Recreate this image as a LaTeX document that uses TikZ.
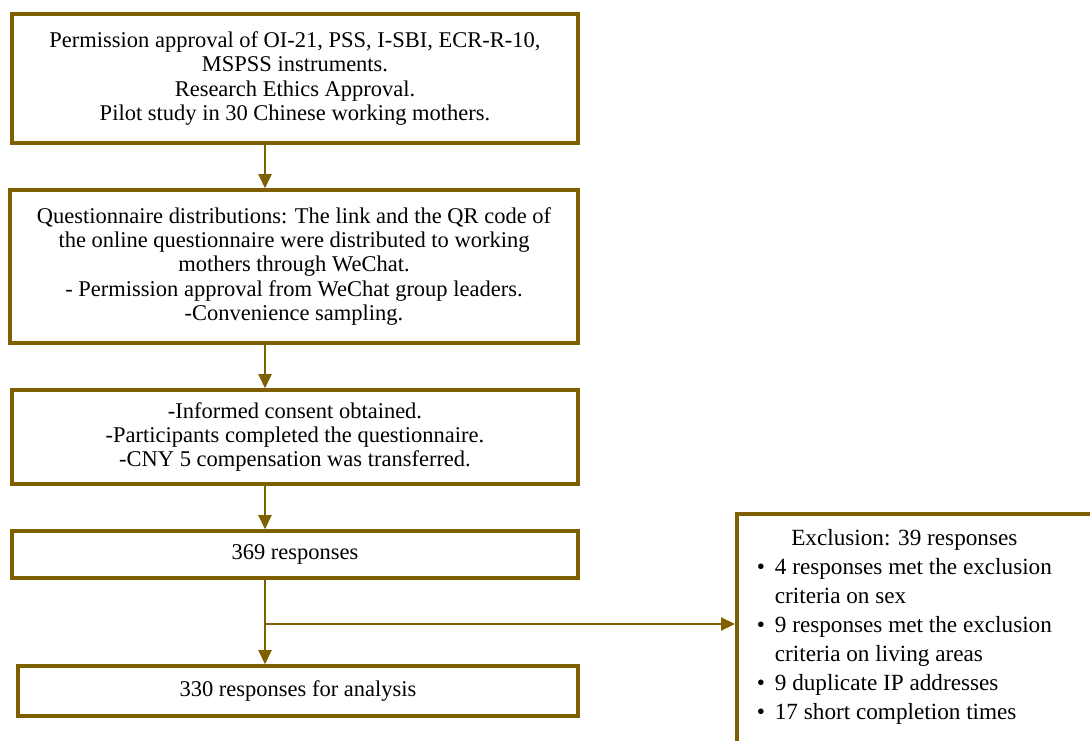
\documentclass[tikz,border=0pt]{standalone}
\usepackage{fontspec}
\setmainfont{Liberation Serif}
\usetikzlibrary{arrows.meta, positioning}
\definecolor{flowgold}{RGB}{127,96,0}
\tikzset{
  stepbox/.style = {draw=flowgold, line width=2pt, fill=white, align=center, inner sep=2pt,
    font=\fontsize{12.8}{13.9}\selectfont},
  flow/.style = {draw=flowgold, line width=1.2pt, -{Triangle[length=2.8mm, width=2.6mm]}}
}

\begin{document}
\begin{tikzpicture}

    \useasboundingbox (0,0) rectangle (21.8,14.8);
    \clip (0,0) rectangle (21.8,14.8);

    %% Main steps

    % Boxes
    \node[stepbox, minimum width=11.32cm, minimum height=2.58cm] (approval) at (5.9,13.23)
        {Permission approval of OI-21, PSS, I-SBI, ECR-R-10,\\ MSPSS instruments.\\ Research Ethics Approval.\\ Pilot study in 30 Chinese working mothers.};
    \node[stepbox, minimum width=11.36cm, minimum height=3.06cm] (distribution) at (5.88,9.47)
        {Questionnaire distributions: The link and the QR code of\\ the online questionnaire were distributed to working\\ mothers through WeChat.\\ - Permission approval from WeChat group leaders.\\ -Convenience sampling.};
    \node[stepbox, minimum width=11.32cm, minimum height=1.88cm] (consent) at (5.9,6.06)
        {-Informed consent obtained.\\ -Participants completed the questionnaire.\\ -CNY 5 compensation was transferred.};
    \node[stepbox, minimum width=11.32cm, minimum height=0.94cm] (responses) at (5.9,3.71) {369 responses};
    \node[stepbox, minimum width=11.2cm, minimum height=1.0cm] (analysis) at (5.96,0.98) {330 responses for analysis};

    % Exclusion box, runs past the page edge
    \node[stepbox, anchor=north west, inner sep=0pt, align=left, font=\fontsize{13.2}{16.5}\selectfont] (exclusion) at (14.7,4.56)
        {\parbox[c][5.2cm][t]{7.6cm}{\vspace*{0.22cm}\hspace*{0.4cm}\begin{tabular}{@{}l@{\hspace{0.2cm}}l@{}}
            \multicolumn{2}{c}{Exclusion: 39 responses}\\
            \textbullet & 4 responses met the exclusion\\
                        & criteria on sex\\
            \textbullet & 9 responses met the exclusion\\
                        & criteria on living areas\\
            \textbullet & 9 duplicate IP addresses\\
            \textbullet & 17 short completion times
        \end{tabular}}};

    % Arrows
    \coordinate (spine) at (5.3,0);
    \coordinate (branch) at (5.3,2.32);
    \draw[flow] (approval.south -| spine) -- (distribution.north -| spine);
    \draw[flow] (distribution.south -| spine) -- (consent.north -| spine);
    \draw[flow] (consent.south -| spine) -- (responses.north -| spine);
    \draw[flow] (responses.south -| spine) -- (analysis.north -| spine);
    \draw[flow] (branch) -- (branch -| exclusion.west);

\end{tikzpicture}
\end{document}
